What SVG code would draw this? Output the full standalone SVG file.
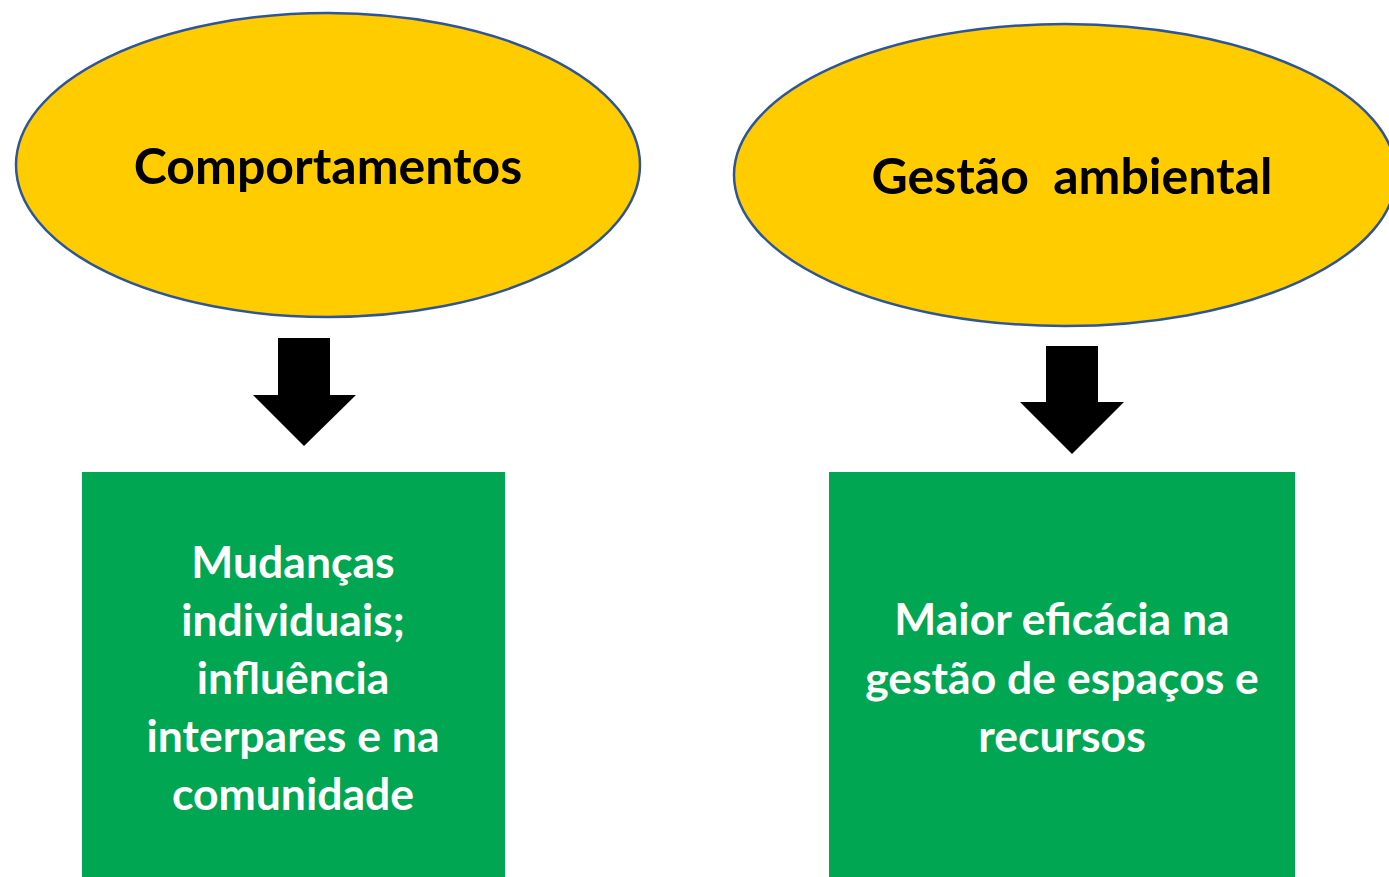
<svg xmlns="http://www.w3.org/2000/svg" width="1389" height="877" viewBox="0 0 1389 877">
<style>
.ell{fill:#FFCC00;stroke:#2F5597;stroke-width:2.5}
.box{fill:#00A651}
.arr{fill:#000}
.t{font-family:Lato,"Open Sans","Liberation Sans",sans-serif;font-weight:bold;text-anchor:middle}
.dark{fill:#000;font-size:50px}
.light{fill:#fff;font-size:44.5px}
</style>
<rect width="1389" height="877" fill="#fff"/>
<g id="connectors">
<polygon class="arr" points="278,338 330,338 330,395 356,395 304,446 253,395 278,395"/>
<polygon class="arr" points="1046,346 1098,346 1098,402 1124,402 1072,454 1020,402 1046,402"/>
</g>
<g id="comportamentos">
<ellipse class="ell" cx="328" cy="165" rx="312" ry="152"/>
<text class="t dark" x="328" y="184">Comportamentos</text>
</g>
<g id="gestao">
<ellipse class="ell" cx="1065" cy="175" rx="331" ry="151"/>
<text class="t dark" x="1072" y="194" xml:space="preserve">Gestão  ambiental</text>
</g>
<g id="mudancas">
<rect class="box" x="82" y="472" width="423" height="405"/>
<text class="t light" x="293" y="578">Mudanças</text>
<text class="t light" x="293" y="636">individuais;</text>
<text class="t light" x="293" y="694">influência</text>
<text class="t light" x="293" y="752">interpares e na</text>
<text class="t light" x="293" y="810">comunidade</text>
</g>
<g id="eficacia">
<rect class="box" x="829" y="472" width="466" height="405"/>
<text class="t light" x="1062" y="635">Maior eficácia na</text>
<text class="t light" x="1062" y="694">gestão de espaços e</text>
<text class="t light" x="1062" y="752">recursos</text>
</g>
</svg>
